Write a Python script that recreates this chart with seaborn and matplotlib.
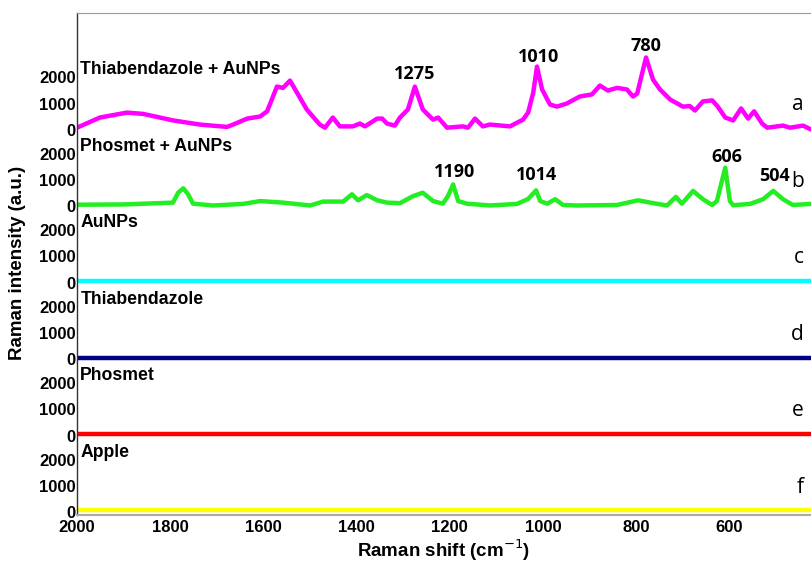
import matplotlib
matplotlib.use("Agg")

import numpy as np
import pandas as pd
import matplotlib.pyplot as plt
from matplotlib.ticker import MultipleLocator
import seaborn as sns

sns.set_style("white")
plt.rcParams["font.family"] = ["Liberation Sans", "DejaVu Sans"]
plt.rcParams["text.color"] = "black"
plt.rcParams["xtick.color"] = "black"
plt.rcParams["ytick.color"] = "black"
plt.rcParams["axes.labelcolor"] = "black"

# spectrum a: thiabendazole + AuNPs
shift_a = [2000, 1951, 1893, 1858, 1794, 1736, 1678, 1665, 1635, 1607, 1592, 1571, 1558,
           1543, 1528, 1507, 1479, 1468, 1451, 1436, 1408, 1393, 1382, 1356, 1345, 1335,
           1318, 1307, 1290, 1275, 1258, 1236, 1225, 1206, 1172, 1161, 1146, 1129, 1114,
           1071, 1043, 1032, 1021, 1013, 1002, 985, 970, 949, 921, 895, 878, 861, 841,
           820, 807, 798, 779, 764, 749, 727, 700, 685, 674, 657, 637, 625, 609, 592,
           575, 560, 547, 530, 519, 485, 470, 442, 425]
int_a = [70, 460, 650, 600, 350, 190, 100, 190, 420, 500, 700, 1650, 1600,
         1880, 1420, 770, 190, 70, 460, 120, 120, 230, 120, 420, 420, 230,
         150, 460, 770, 1650, 770, 380, 460, 70, 120, 70, 420, 120, 190,
         120, 380, 650, 1420, 2420, 1540, 960, 880, 1000, 1270, 1350, 1690, 1500, 1600,
         1540, 1270, 1380, 2770, 1920, 1540, 1150, 880, 900, 730, 1080, 1120, 880, 460, 350,
         810, 420, 700, 230, 70, 150, 70, 150, 0]

# spectrum b: phosmet + AuNPs
shift_b = [2000, 1900, 1794, 1783, 1772, 1762, 1751, 1708, 1644, 1607, 1558, 1500, 1472,
           1429, 1410, 1397, 1378, 1356, 1335, 1307, 1279, 1258, 1236, 1215, 1204, 1193,
           1182, 1163, 1114, 1056, 1032, 1015, 1006, 991, 974, 957, 927, 841, 796, 770,
           734, 715, 702, 678, 657, 637, 627, 609, 599, 592, 556, 528, 506, 485, 464, 425]
int_b = [50, 60, 130, 510, 680, 460, 90, 20, 80, 190, 130, 20, 170,
         170, 450, 220, 420, 220, 130, 110, 380, 510, 190, 90, 380, 830,
         190, 90, 20, 80, 270, 600, 190, 90, 260, 40, 20, 40, 220, 130,
         20, 350, 90, 580, 260, 40, 190, 1470, 190, 30, 80, 260, 580, 260, 40, 80]

# flat reference spectra c-f
shift_flat = [2000, 1600, 1200, 800, 425]
int_c = [60, 60, 60, 60, 60]
int_d = [50, 50, 50, 50, 50]
int_e = [60, 60, 60, 60, 60]
int_f = [70, 70, 70, 70, 70]

names = ["Thiabendazole + AuNPs", "Phosmet + AuNPs", "AuNPs", "Thiabendazole", "Phosmet", "Apple"]
letters = ["a", "b", "c", "d", "e", "f"]
colors = ["#ff00ff", "#22ee22", "#00ffff", "#000080", "#ff0000", "#ffff00"]
spectra = [(shift_a, int_a), (shift_b, int_b), (shift_flat, int_c),
           (shift_flat, int_d), (shift_flat, int_e), (shift_flat, int_f)]

peaks_a = [1275, 1010, 780]
peak_heights_a = [1800, 2450, 2850]
peaks_b = [1190, 1014, 606, 504]
peak_heights_b = [950, 850, 1550, 800]

fig = plt.figure(figsize=(8.11, 5.65), dpi=100)
gs = fig.add_gridspec(6, 1, height_ratios=[119.5] + [76.5] * 5, hspace=0,
                      left=77 / 811, right=1.0, top=1 - 13 / 565, bottom=1 - 515 / 565)
axes = [fig.add_subplot(gs[i]) for i in range(6)]

for i, ax in enumerate(axes):
    x, y = spectra[i]
    df = pd.DataFrame({"shift": x, "intensity": y})
    sns.lineplot(data=df, x="shift", y="intensity", ax=ax, color=colors[i], lw=3.2)
    ax.set_xlim(2000, 425)
    if i == 0:
        ax.set_ylim(-115, 4480)
    else:
        ax.set_ylim(-115, 2825)
    ax.set_yticks([0, 1000, 2000])
    ax.yaxis.set_minor_locator(MultipleLocator(500))
    ax.tick_params(axis="y", which="major", labelsize=12, length=3, width=0.8, pad=1, direction="in")
    ax.tick_params(axis="y", which="minor", length=2, width=0.6, direction="in")
    for lab in ax.get_yticklabels():
        lab.set_fontweight("bold")
    ax.set_xlabel("")
    ax.set_ylabel("")
    ax.spines["right"].set_visible(False)
    ax.spines["left"].set_color("#333333")
    ax.spines["left"].set_linewidth(1.0)
    if i > 0:
        ax.spines["top"].set_visible(False)
    else:
        ax.spines["top"].set_color("#999999")
    if i < 5:
        ax.spines["bottom"].set_visible(False)
        ax.tick_params(axis="x", which="both", bottom=False, labelbottom=False)
    ax.text(1993, 2300, names[i], fontsize=12.7, fontweight="bold", ha="left", va="center")
    ax.text(441, 550, letters[i], fontsize=15, family=["Open Sans", "DejaVu Sans"],
            ha="right", va="bottom")

for p, h in zip(peaks_a, peak_heights_a):
    axes[0].text(p, h, str(p), fontsize=13, fontweight="bold",
                 family=["Open Sans", "DejaVu Sans"], ha="center", va="bottom")
for p, h in zip(peaks_b, peak_heights_b):
    axes[1].text(p, h, str(p), fontsize=13, fontweight="bold",
                 family=["Open Sans", "DejaVu Sans"], ha="center", va="bottom")

bx = axes[5]
bx.spines["bottom"].set_color("#aaaaaa")
bx.spines["bottom"].set_linewidth(1.5)
bx.set_xticks([2000, 1800, 1600, 1400, 1200, 1000, 800, 600])
bx.xaxis.set_minor_locator(MultipleLocator(50))
bx.tick_params(axis="x", which="major", labelsize=12, length=3, color="#888888", pad=2, direction="inout")
bx.tick_params(axis="x", which="minor", length=2, color="#888888", direction="inout")
for lab in bx.get_xticklabels():
    lab.set_fontweight("bold")
bx.set_xlabel("Raman shift (cm$^{-1}$)", fontsize=13.5, fontweight="bold", labelpad=2)

fig.text(0.022, 0.534, "Raman intensity (a.u.)", rotation=90, fontsize=13.5,
         fontweight="bold", ha="center", va="center")

plt.savefig("out.png", dpi=100)
plt.close()
